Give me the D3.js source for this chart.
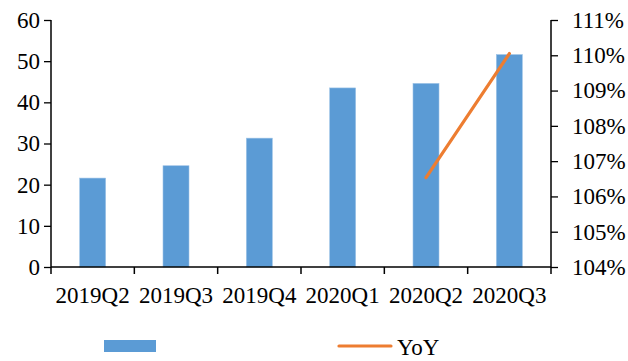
<!DOCTYPE html>
<html><head><meta charset="utf-8">
<script src="https://cdn.jsdelivr.net/npm/d3@7"></script>
<style>body{margin:0;background:#fff}svg{display:block}svg text{font-family:'Liberation Serif','Times New Roman',Times,serif !important}</style>
</head><body><svg id="c" width="628" height="361"></svg>
<script>
const categories = ["2019Q2","2019Q3","2019Q4","2020Q1","2020Q2","2020Q3"];
const values = [21.6, 24.6, 31.3, 43.5, 44.6, 51.6];
const yoy = [null, null, null, null, 1.0653, 1.1005];
const leftTicks = [0,10,20,30,40,50,60];
const rightTicks = [1.04,1.05,1.06,1.07,1.08,1.09,1.10,1.11];
const seriesNames = ["", "YoY"];

const svg = d3.select("#c");
const L = 51, R = 551, T = 20, B = 267;
const xt = d3.scaleBand().domain(categories).range([L, R]);
const y = d3.scaleLinear().domain([0, 60]).range([B, T]);
const y2 = d3.scaleLinear().domain([1.04, 1.11]).range([B, T]);
const fs = "23px";

svg.selectAll("rect.bar").data(values).join("rect").attr("class","bar")
  .attr("x",(d,i)=>xt(categories[i]) + xt.bandwidth()/2 - 13)
  .attr("width",26)
  .attr("y",d=>y(d)).attr("height",d=>B-y(d))
  .attr("fill","#5B9BD5").attr("stroke","#9DC3E6").attr("stroke-width",0.6);

const ga = svg.append("g").attr("transform",`translate(${L},0)`)
  .call(d3.axisLeft(y).tickValues(leftTicks).tickSize(7).tickPadding(4).tickFormat(d3.format("d")));
const gb = svg.append("g").attr("transform",`translate(${R},0)`)
  .call(d3.axisRight(y2).tickValues(rightTicks).tickSize(7).tickPadding(14).tickFormat(d=>Math.round(d*100)+"%"));
const gc = svg.append("g").attr("transform",`translate(0,${B})`)
  .call(d3.axisBottom(xt).tickSize(0).tickPadding(20));
gc.selectAll("line.bt").data(d3.range(categories.length+1)).join("line").attr("class","bt")
  .attr("x1",i=>L+i*xt.step()).attr("x2",i=>L+i*xt.step()).attr("y1",0).attr("y2",7)
  .attr("stroke","#000").attr("stroke-width",1.5);

[ga,gb,gc].forEach(g=>{
  g.attr("font-family",null);
  g.select(".domain").attr("stroke","#000").attr("stroke-width",1.5);
  g.selectAll(".tick line").attr("stroke","#000").attr("stroke-width",1.3);
  g.selectAll("text").attr("font-size",fs).attr("fill","#000");
});
ga.select(".domain").attr("d",`M0,${T}H0V${B}H0`);
gb.select(".domain").attr("d",`M0,${T}H0V${B}H0`);
gc.select(".domain").attr("d",`M${L},0H${R}`);

const pts = categories.map((c,i)=>({c, v:yoy[i]})).filter(d=>d.v!=null);
svg.append("path").datum(pts)
  .attr("d", d3.line().x(d=>xt(d.c)+xt.bandwidth()/2).y(d=>y2(d.v)))
  .attr("fill","none").attr("stroke","#ED7D31").attr("stroke-width",3.2).attr("stroke-linecap","round");

svg.append("rect").attr("x",104).attr("y",340).attr("width",52).attr("height",12).attr("fill","#5B9BD5");
svg.append("text").attr("x",162).attr("y",355).attr("font-size",fs).text(seriesNames[0]);
svg.append("line").attr("x1",339).attr("x2",391).attr("y1",346).attr("y2",346)
  .attr("stroke","#ED7D31").attr("stroke-width",3.2).attr("stroke-linecap","round");
svg.append("text").attr("x",397).attr("y",355).attr("font-size",fs).text(seriesNames[1]);
</script></body></html>
